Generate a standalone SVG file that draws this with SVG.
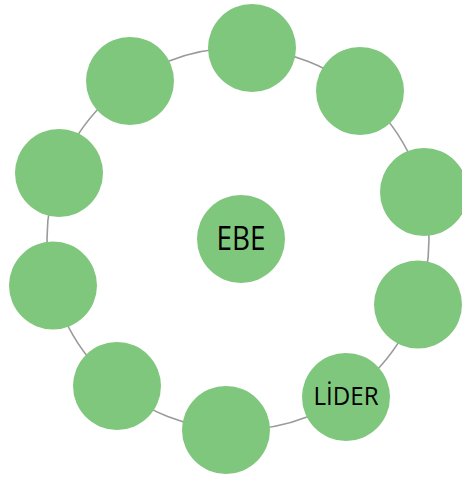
<svg xmlns="http://www.w3.org/2000/svg" width="462" height="477" viewBox="0 0 462 477">
<style>
.n{fill:#7FC77D}
.t{font-family:"Open Sans","Liberation Sans",sans-serif;fill:#000;text-anchor:middle}
.ring{fill:none;stroke:#9a9a9a;stroke-width:1.6}
</style>
<rect width="462" height="477" fill="#fff"/>
<g id="connectors"><circle class="ring" cx="238" cy="239" r="191"/></g>
<g id="n1"><circle class="n" cx="252" cy="48" r="44"/></g>
<g id="n2"><circle class="n" cx="360" cy="91" r="44"/></g>
<g id="n3"><circle class="n" cx="424" cy="192" r="44"/></g>
<g id="n4"><circle class="n" cx="418" cy="304.5" r="44"/></g>
<g id="lider"><circle class="n" cx="346" cy="397" r="44"/><text class="t" x="346" y="405" font-size="26" textLength="65" lengthAdjust="spacingAndGlyphs">LİDER</text></g>
<g id="n6"><circle class="n" cx="226" cy="430" r="44"/></g>
<g id="n7"><circle class="n" cx="117" cy="386" r="44"/></g>
<g id="n8"><circle class="n" cx="53" cy="285.5" r="44"/></g>
<g id="n9"><circle class="n" cx="59" cy="173" r="44"/></g>
<g id="n10"><circle class="n" cx="130" cy="81" r="44"/></g>
<g id="ebe"><circle class="n" cx="241" cy="239" r="44"/><text class="t" x="241" y="250" font-size="32" textLength="49" lengthAdjust="spacingAndGlyphs">EBE</text></g>
</svg>
